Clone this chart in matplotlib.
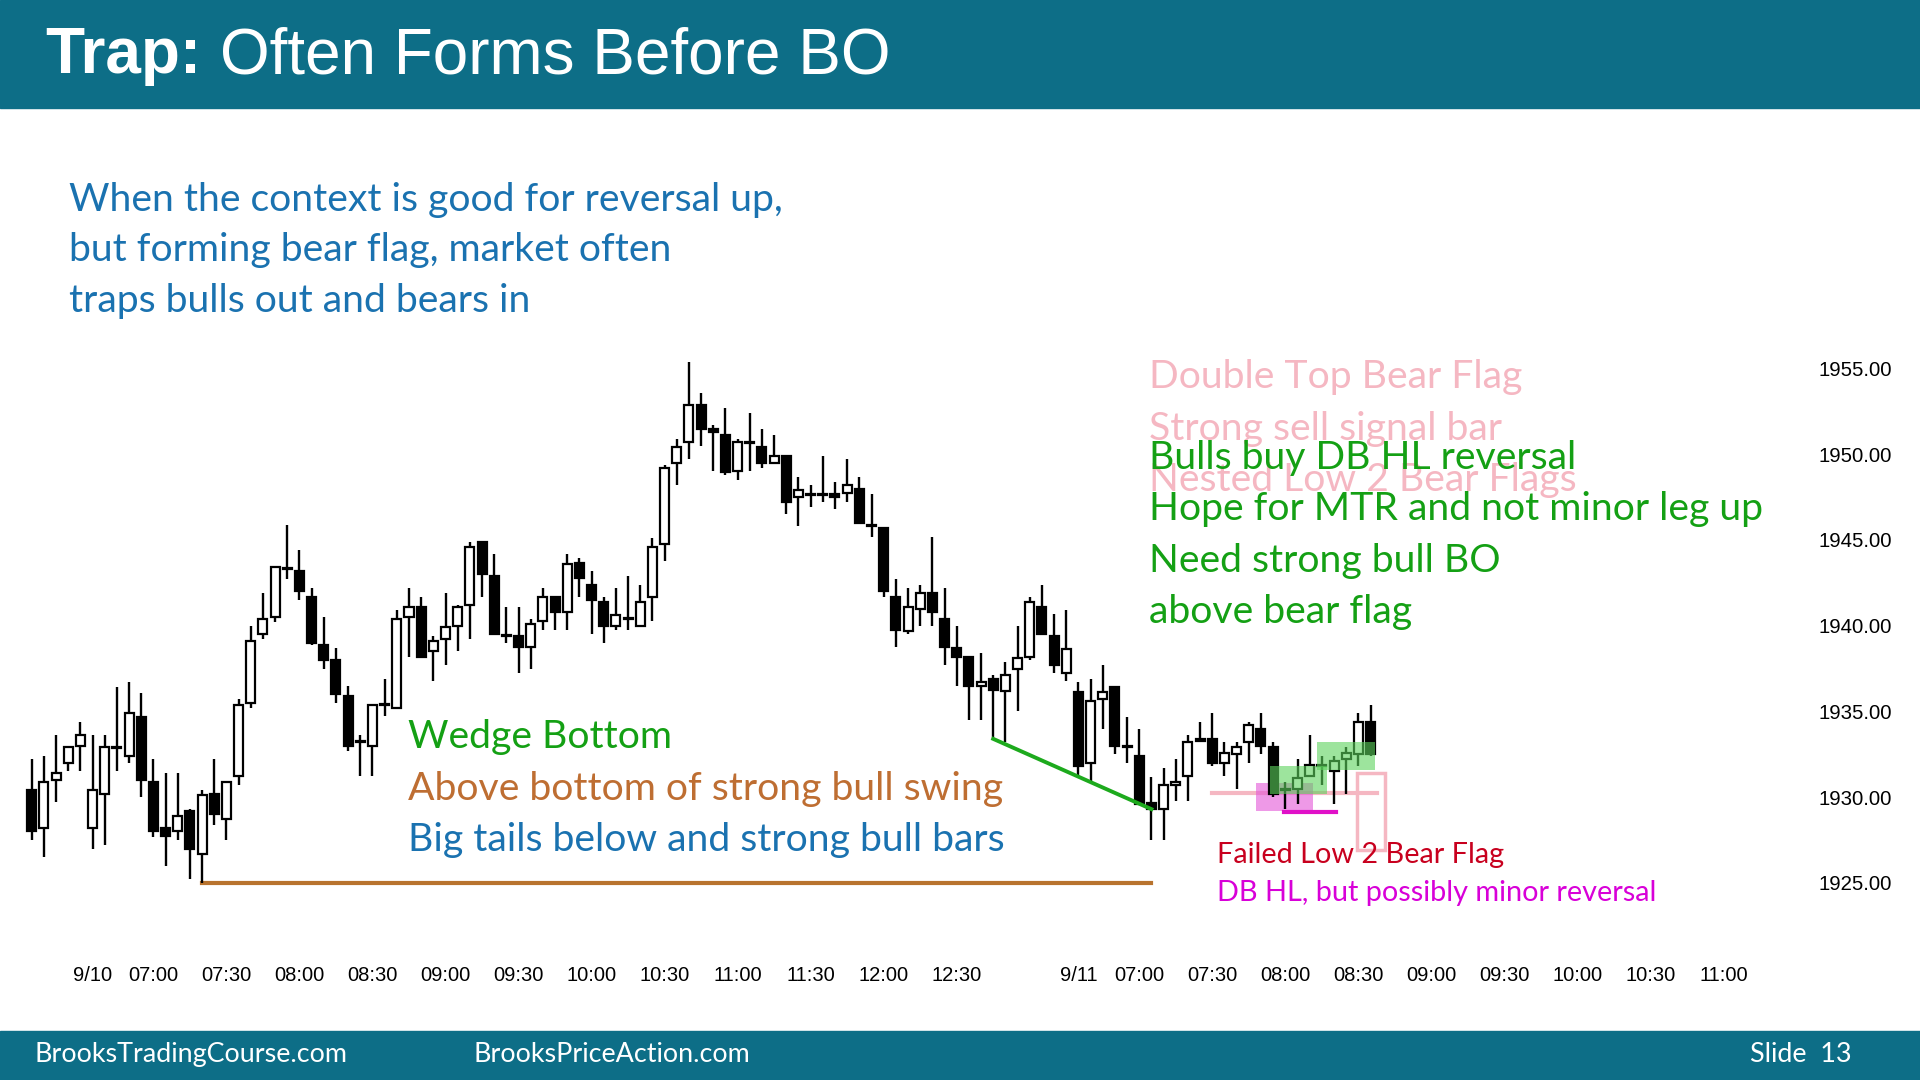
import matplotlib.pyplot as plt
from matplotlib.patches import Rectangle
import numpy as np

# 5-min bars: last 5 bars of 9/9, full 9/10 session, first bars of 9/11
opens = [1930.4, 1928.2, 1931.0, 1932.0, 1933.0, 1928.2, 1930.2, 1932.85, 1932.4, 1934.7,
         1930.9, 1928.2, 1928.0, 1929.2, 1926.7, 1930.2, 1928.75, 1931.25, 1935.5, 1939.5,
         1940.5, 1943.3, 1943.2, 1941.7, 1938.9, 1938.0, 1935.9, 1933.2, 1933.0, 1935.4,
         1935.2, 1940.5, 1941.1, 1938.5, 1939.2, 1940.0, 1941.2, 1944.9, 1942.9, 1939.4,
         1939.4, 1938.75, 1940.25, 1941.7, 1940.8, 1943.65, 1942.4, 1941.4, 1940.0, 1940.4,
         1940.0, 1941.7, 1944.75, 1949.5, 1950.7, 1952.9, 1951.5, 1951.1, 1949.0, 1950.65,
         1950.4, 1949.5, 1949.9, 1947.5, 1947.65, 1947.65, 1947.7, 1947.75, 1947.95, 1945.9,
         1945.7, 1941.7, 1939.7, 1941.0, 1941.9, 1940.4, 1938.7, 1938.2, 1936.5, 1936.9,
         1936.2, 1937.5, 1938.2, 1941.1, 1939.4, 1937.25, 1936.15, 1932.0, 1935.7, 1936.4,
         1932.9, 1932.4, 1929.65, 1929.3, 1930.7, 1931.25, 1933.3, 1933.4, 1932.0, 1932.5,
         1933.2, 1934.0, 1932.9, 1930.4, 1930.5, 1931.25, 1931.8, 1931.5, 1932.25, 1932.5,
         1934.4]
highs = [1932.2, 1932.4, 1933.6, 1933.0, 1934.4, 1933.6, 1933.6, 1936.4, 1936.7, 1936.1,
         1932.2, 1931.4, 1931.4, 1929.3, 1930.4, 1932.2, 1930.9, 1935.7, 1940.0, 1941.9,
         1943.4, 1945.9, 1944.4, 1942.2, 1940.5, 1938.7, 1936.5, 1933.6, 1935.4, 1936.9,
         1940.9, 1942.2, 1941.7, 1939.4, 1941.9, 1941.2, 1944.9, 1944.95, 1944.2, 1941.1,
         1941.1, 1940.4, 1942.2, 1941.75, 1944.2, 1943.95, 1943.2, 1941.7, 1942.2, 1942.9,
         1942.4, 1945.1, 1949.4, 1950.9, 1955.4, 1953.6, 1951.7, 1952.7, 1950.9, 1952.4,
         1951.5, 1951.1, 1949.95, 1948.7, 1948.2, 1949.9, 1948.4, 1949.7, 1948.7, 1947.7,
         1945.75, 1942.7, 1942.2, 1942.4, 1945.2, 1942.2, 1940.0, 1938.25, 1938.4, 1937.1,
         1937.9, 1940.0, 1941.7, 1942.4, 1940.7, 1940.9, 1936.7, 1936.9, 1937.7, 1936.45,
         1934.7, 1934.0, 1931.2, 1931.7, 1932.2, 1933.6, 1934.4, 1934.9, 1933.2, 1933.2,
         1934.4, 1934.9, 1933.2, 1930.9, 1932.2, 1933.6, 1932.4, 1932.4, 1932.9, 1934.9,
         1935.4]
lows = [1927.5, 1926.5, 1929.7, 1931.5, 1931.5, 1927.0, 1927.2, 1931.5, 1932.0, 1930.0,
        1927.7, 1926.0, 1927.5, 1925.25, 1925.0, 1928.4, 1927.5, 1930.7, 1935.2, 1939.2,
        1940.2, 1942.75, 1941.5, 1938.9, 1937.5, 1935.5, 1932.7, 1931.25, 1931.25, 1934.75,
        1935.2, 1938.2, 1938.2, 1936.8, 1937.7, 1938.5, 1939.2, 1941.7, 1939.5, 1939.0,
        1937.25, 1937.5, 1939.75, 1939.75, 1939.75, 1941.7, 1939.5, 1939.0, 1939.75, 1939.75,
        1940.0, 1940.25, 1943.75, 1948.2, 1949.7, 1950.5, 1949.0, 1948.8, 1948.5, 1949.0,
        1949.2, 1949.5, 1946.5, 1945.8, 1946.9, 1947.2, 1946.8, 1947.2, 1946.0, 1945.2,
        1941.7, 1938.75, 1939.5, 1940.0, 1940.0, 1937.7, 1936.5, 1934.5, 1934.5, 1933.4,
        1933.2, 1935.0, 1938.0, 1939.5, 1937.25, 1936.8, 1931.25, 1930.8, 1934.0, 1932.5,
        1932.0, 1929.6, 1927.5, 1927.5, 1929.8, 1929.8, 1933.2, 1931.8, 1931.25, 1930.5,
        1932.0, 1932.5, 1930.0, 1929.3, 1929.6, 1931.2, 1930.7, 1929.6, 1930.2, 1931.8,
        1932.4]
closes = [1928.0, 1930.9, 1931.4, 1932.9, 1933.6, 1930.4, 1932.9, 1932.85, 1934.9, 1931.0,
          1928.0, 1927.75, 1928.9, 1927.0, 1930.1, 1929.0, 1930.9, 1935.4, 1939.1, 1940.4,
          1943.4, 1943.3, 1942.0, 1939.0, 1938.0, 1936.0, 1933.0, 1933.2, 1935.4, 1935.4,
          1940.4, 1941.1, 1938.2, 1939.1, 1939.9, 1941.1, 1944.6, 1943.0, 1939.5, 1939.4,
          1938.75, 1940.1, 1941.7, 1940.8, 1943.6, 1942.8, 1941.5, 1940.0, 1940.6, 1940.4,
          1941.4, 1944.6, 1949.2, 1950.4, 1952.9, 1951.5, 1951.3, 1948.95, 1950.7, 1950.65,
          1949.5, 1949.9, 1947.2, 1947.9, 1947.65, 1947.65, 1947.5, 1948.2, 1946.0, 1945.8,
          1942.0, 1939.75, 1941.1, 1941.9, 1940.8, 1938.75, 1938.2, 1936.5, 1936.7, 1936.25,
          1937.1, 1938.1, 1941.4, 1939.5, 1937.7, 1938.65, 1931.8, 1935.6, 1936.15, 1933.0,
          1932.9, 1929.6, 1929.3, 1930.7, 1930.9, 1933.2, 1933.4, 1932.0, 1932.6, 1932.9,
          1934.2, 1933.0, 1930.2, 1930.4, 1931.1, 1931.9, 1931.8, 1932.1, 1932.6, 1934.4,
          1932.5]

tick_pos = [5, 10, 16, 22, 28, 34, 40, 46, 52, 58, 64, 70, 76,
            86, 91, 97, 103, 109, 115, 121, 127, 133, 139]
tick_lab = ["9/10", "07:00", "07:30", "08:00", "08:30", "09:00", "09:30", "10:00",
            "10:30", "11:00", "11:30", "12:00", "12:30",
            "9/11", "07:00", "07:30", "08:00", "08:30", "09:00", "09:30", "10:00",
            "10:30", "11:00"]
price_ticks = [1925, 1930, 1935, 1940, 1945, 1950, 1955]

# annotation levels
swing_low_x = [14, 92]
swing_low_y = [1925.0, 1925.0]
wedge_x = [79, 92]
wedge_y = [1933.4, 1929.3]
l2_line_x = [97, 110.5]
l2_line_y = [1930.25, 1930.25]
dbhl_x = [102.9, 107.2]
dbhl_y = [1929.15, 1929.15]

teal = "#0D6E87"
blue = "#1A72B0"
green = "#14A014"
orange = "#BE6E32"
pink = "#F5B7C2"

W, H = 1568, 882   # layout measured on the reference thumbnail
def fx(x):
    return x / W
def fy(y):
    return 1 - y / H

fig = plt.figure(figsize=(19.2, 10.8), dpi=100)
fig.patch.set_facecolor("white")

# header and footer bands
fig.add_artist(Rectangle((0, fy(88)), 1, 88 / H, transform=fig.transFigure,
                         color=teal, zorder=0))
fig.add_artist(Rectangle((0, 0), 1, 40 / H, transform=fig.transFigure,
                         color=teal, zorder=0))

fig.text(fx(37), fy(46), "Trap:", color="white", fontsize=46, fontweight="bold",
         family="Liberation Sans", va="center")
fig.text(fx(180), fy(46), "Often Forms Before BO", color="white", fontsize=46,
         family="Liberation Sans", va="center")

body_font = "Lato"
fig.text(fx(28), fy(861), "BrooksTradingCourse.com", color="white", fontsize=19.4,
         family=body_font, va="center")
fig.text(fx(387), fy(861), "BrooksPriceAction.com", color="white", fontsize=19.4,
         family=body_font, va="center")
fig.text(fx(1512), fy(861), "Slide  13", color="white", fontsize=19.4,
         family=body_font, va="center", ha="right")

note_size = 28.2
intro = ["When the context is good for reversal up,",
         "but forming bear flag, market often",
         "traps bulls out and bears in"]
for k, line in enumerate(intro):
    fig.text(fx(56), fy(163 + 41.5 * k), line, color=blue, fontsize=note_size,
             family=body_font, va="center")

# chart axes
ax = fig.add_axes([fx(6.0), fy(749), (1427.4 - 6.0) / W, (749 - 273) / H])
ax.set_xlim(-2, 141)
ax.set_ylim(1923, 1957)
for s in ax.spines.values():
    s.set_visible(False)

o = np.array(opens)
h = np.array(highs)
l = np.array(lows)
c = np.array(closes)
x = np.arange(len(o))
up = c >= o

ax.vlines(x, l, h, color="black", linewidth=1.7, zorder=2)
body_h = np.maximum(np.abs(c - o), 0.06)
ax.bar(x, body_h, bottom=np.minimum(o, c), width=0.74,
       color=np.where(up, "white", "black"), edgecolor="black",
       linewidth=1.6, zorder=3)

# annotations
ax.plot(swing_low_x, swing_low_y, color="#B8732E", linewidth=3, zorder=1)
ax.plot(wedge_x, wedge_y, color="#1DAA1D", linewidth=2.8, zorder=4)
ax.plot(l2_line_x, l2_line_y, color=pink, linewidth=3, zorder=1)
ax.add_patch(Rectangle((100.6, 1929.2), 4.7, 1.6, color="#E455D8", alpha=0.6,
                       linewidth=0, zorder=1))
ax.add_patch(Rectangle((101.7, 1930.2), 4.7, 1.6, color="#5CD35C", alpha=0.6,
                       linewidth=0, zorder=5))
ax.add_patch(Rectangle((105.6, 1931.6), 4.8, 1.6, color="#5CD35C", alpha=0.6,
                       linewidth=0, zorder=5))
ax.plot(dbhl_x, dbhl_y, color="#E010C8", linewidth=3, zorder=4)
ax.add_patch(Rectangle((108.9, 1926.9), 2.3, 4.5, fill=False, edgecolor=pink,
                       linewidth=2.5, zorder=4))

ax.set_xticks(tick_pos)
ax.set_xticklabels(tick_lab, family="Liberation Sans", fontsize=14.5)
ax.set_yticks(price_ticks)
ax.set_yticklabels(["%.2f" % p for p in price_ticks], family="Liberation Sans",
                   fontsize=14.7)
ax.tick_params(axis="x", length=0, pad=35)
ax.yaxis.tick_right()
ax.tick_params(axis="y", length=0, pad=51)

# chart notes
fig.text(fx(333), fy(602), "Wedge Bottom", color=green, fontsize=note_size,
         family=body_font, va="center")
fig.text(fx(333), fy(644), "Above bottom of strong bull swing", color=orange,
         fontsize=note_size, family=body_font, va="center")
fig.text(fx(333), fy(686), "Big tails below and strong bull bars", color=blue,
         fontsize=note_size, family=body_font, va="center")

for k, line in enumerate(["Double Top Bear Flag", "Strong sell signal bar",
                          "Nested Low 2 Bear Flags"]):
    fig.text(fx(938), fy(308 + 42 * k), line, color=pink, fontsize=note_size,
             family=body_font, va="center")
for k, line in enumerate(["Bulls buy DB HL reversal", "Hope for MTR and not minor leg up",
                          "Need strong bull BO", "above bear flag"]):
    fig.text(fx(938), fy(374 + 42 * k), line, color=green, fontsize=note_size,
             family=body_font, va="center")

fig.text(fx(994), fy(698), "Failed Low 2 Bear Flag", color="#C8001E", fontsize=20.8,
         family=body_font, va="center")
fig.text(fx(994), fy(729), "DB HL, but possibly minor reversal", color="#D800D8",
         fontsize=20.8, family=body_font, va="center")

fig.savefig("out.png", dpi=100)
